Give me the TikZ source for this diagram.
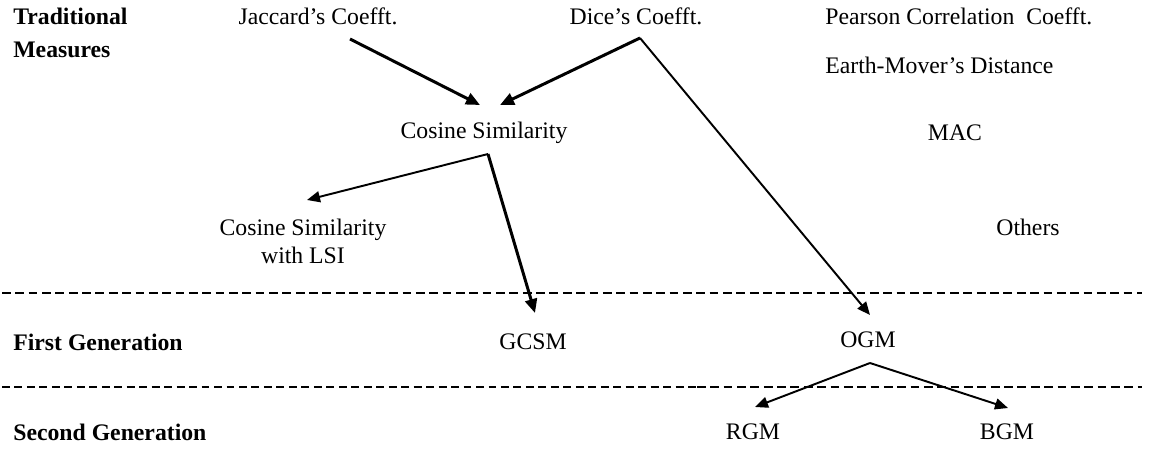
\documentclass[tikz,border=0pt]{standalone}
\usepackage{fontspec}
\setmainfont{Liberation Serif}
\usepackage{tikz}
\usetikzlibrary{arrows.meta, positioning, calc}

\begin{document}
\begin{tikzpicture}[
    x=0.02cm, y=-0.02cm,
    lbl/.style={
      inner sep=0pt, font=\fontsize{13.5}{16}\selectfont, align=center
    },
    hdr/.style={
      inner sep=0pt, anchor=west, align=left,
      font=\fontsize{13.5}{19}\selectfont\bfseries
    },
    arr/.style={-{Triangle[length=2.8mm,width=2.4mm]}, line width=1.7pt},
    tarr/.style={-{Triangle[length=2.6mm,width=2.2mm]}, line width=1.1pt},
    sep/.style={dashed, dash pattern=on 5pt off 2.6pt, line width=1.5pt}
  ]
  \useasboundingbox (0,0) rectangle (1150,450);

  % level headings
  \node[hdr] (trad)   at (13,33)  {Traditional\\Measures};
  \node[hdr] (first)  at (13,342) {First Generation};
  \node[hdr] (second) at (13,432) {Second Generation};

  % traditional measures
  \node[lbl] (jac)  at (318,16)  {Jaccard's Coefft.};
  \node[lbl] (dice) at (636,16)  {Dice's Coefft.};
  \node[lbl, anchor=west] (pear) at (825,16) {Pearson Correlation~~Coefft.};
  \node[lbl, anchor=west] (emd)  at (825,65) {Earth-Mover's Distance};
  \node[lbl] (cos)  at (484,133) {Cosine Similarity};
  \node[lbl] (mac)  at (955,133) {MAC};
  \node[lbl] (lsi)  at (303,241) {Cosine Similarity\\with LSI};
  \node[lbl] (oth)  at (1028,227) {Others};

  % generations
  \node[lbl] (gcsm) at (533,342) {GCSM};
  \node[lbl] (ogm)  at (868,340) {OGM};
  \node[lbl] (rgm)  at (753,432) {RGM};
  \node[lbl] (bgm)  at (1007,432) {BGM};

  % separators
  \draw[sep] (2,293) -- (1142,293);
  \draw[sep, line width=0.9pt, dash pattern=on 4.5pt off 2.6pt] (2,387) -- (697,387);
  \draw[sep] (697,387) -- (1142,387);

  % links
  \draw[arr]  ($(jac.center)+(32,23)$)  -- ($(cos.center)+(-4,-28)$);
  \draw[arr]  ($(dice.center)+(4,22)$)  -- ($(cos.center)+(16,-28)$);
  \draw[tarr] ($(dice.center)+(4,22)$)  -- ($(ogm.center)+(2,-25)$);
  \draw[tarr] ($(cos.center)+(4,21)$)   -- ($(lsi.center)+(4,-41)$);
  \draw[arr]  ($(cos.center)+(4,21)$)   -- ($(gcsm.center)+(2,-29)$);
  \draw[tarr] ($(ogm.center)+(2,23)$)   -- ($(rgm.center)+(2,-25)$);
  \draw[tarr] ($(ogm.center)+(2,23)$)   -- ($(bgm.center)+(1,-24)$);
\end{tikzpicture}
\end{document}
